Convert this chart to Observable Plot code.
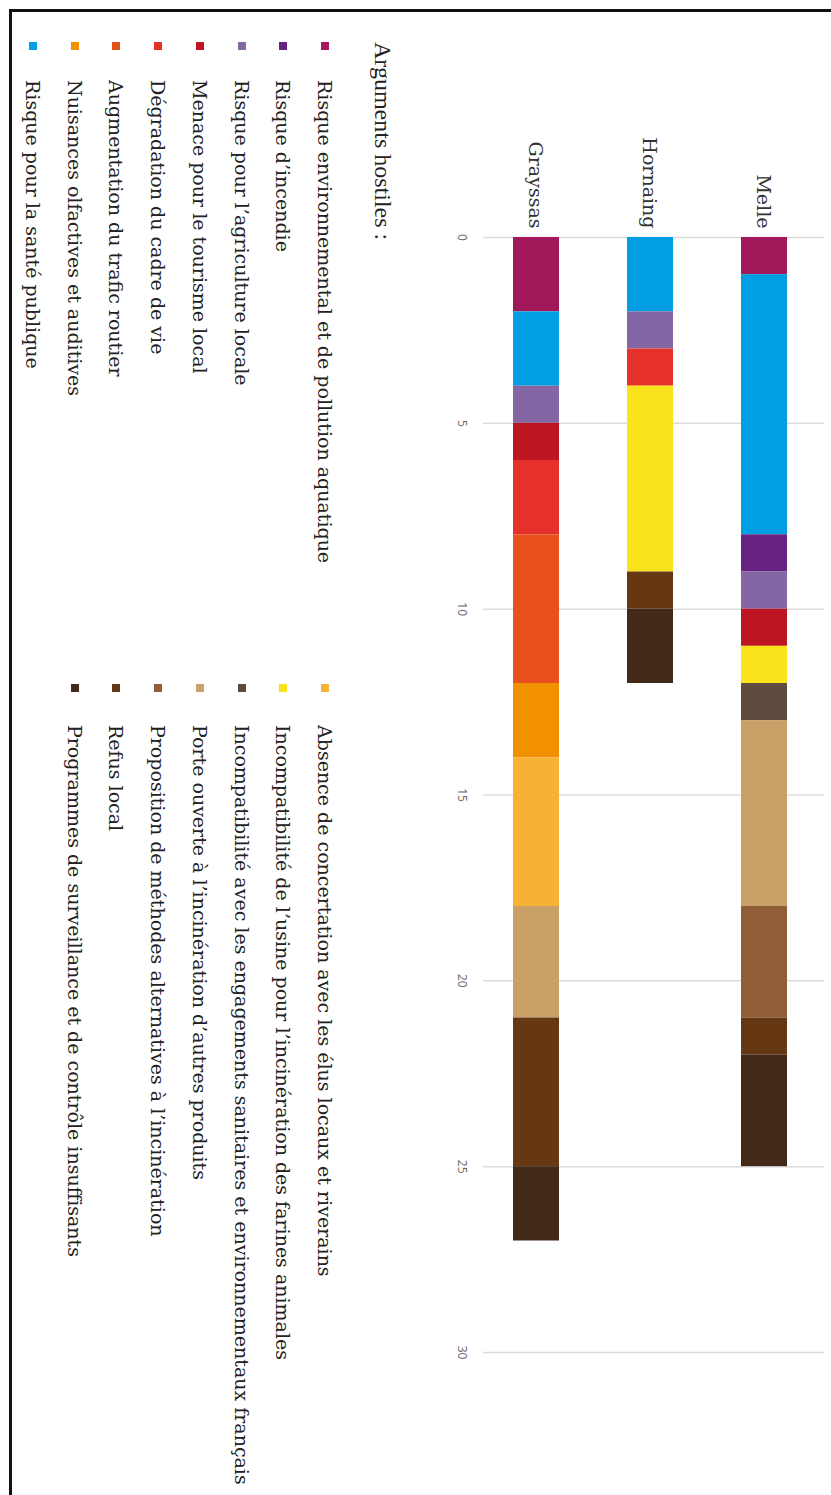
<!DOCTYPE html>
<html><head><meta charset="utf-8">
<script src="https://cdn.jsdelivr.net/npm/d3@7"></script>
<script src="https://cdn.jsdelivr.net/npm/@observablehq/plot@0.6"></script>
<style>
html,body{margin:0;padding:0;background:#fff;}
body{width:831px;height:1495px;overflow:hidden;position:relative;}
#rot{position:absolute;left:0;top:0;width:1495px;height:831px;transform-origin:0 0;transform:translate(831px,0) rotate(90deg);background:#fff;}
#frame{position:absolute;left:9px;top:-10px;width:1500px;height:829px;border-left:3px solid #111;border-bottom:3px solid #111;}
#chart{position:absolute;left:0;top:0;}
.ttl{position:absolute;left:42px;font-family:"Liberation Serif",serif;font-size:24px;color:#222;white-space:nowrap;line-height:28px;}
.row{position:absolute;white-space:nowrap;font-family:"DejaVu Serif",serif;font-size:19px;color:#222;line-height:24px;}
.sw{position:absolute;width:8px;height:8px;}
</style>
</head><body>
<div id="rot"><div id="frame"></div><div id="chart"></div><div id="legend"></div></div>
<script>
const towns = ["Melle", "Hornaing", "Grayssas"];
// arguments in stacking order
const args = [
  "Risque environnemental et de pollution aquatique",
  "Risque pour la santé publique",
  "Risque d’incendie",
  "Risque pour l’agriculture locale",
  "Menace pour le tourisme local",
  "Dégradation du cadre de vie",
  "Augmentation du trafic routier",
  "Nuisances olfactives et auditives",
  "Absence de concertation avec les élus locaux et riverains",
  "Incompatibilité de l’usine pour l’incinération des farines animales",
  "Incompatibilité avec les engagements sanitaires et environnementaux français",
  "Porte ouverte à l’incinération d’autres produits",
  "Proposition de méthodes alternatives à l’incinération",
  "Refus local",
  "Programmes de surveillance et de contrôle insuffisants"
];
const colors = [
  "#a2195b", "#009ee2", "#662382", "#8466a4", "#bd1622", "#e5312a", "#e8511c", "#f29100",
  "#f8b133", "#f9e41b", "#5f4c3e", "#c9a068", "#925e38", "#653813", "#422918"
];
const melle    = [1, 7, 1, 1, 1, 0, 0, 0, 0, 1, 1, 5, 3, 1, 3];
const hornaing = [0, 2, 0, 1, 0, 1, 0, 0, 0, 5, 0, 0, 0, 1, 2];
const grayssas = [2, 2, 0, 1, 1, 2, 4, 2, 4, 0, 0, 3, 0, 4, 2];
const xTicks = [0, 5, 10, 15, 20, 25, 30];
const legendTitle = "Arguments hostiles :";
const legendCol1 = [0, 2, 3, 4, 5, 6, 7, 1];
const legendCol2 = [8, 9, 10, 11, 12, 13, 14];

const series = {Melle: melle, Hornaing: hornaing, Grayssas: grayssas};
const data = [];
for (const t of towns) series[t].forEach((v, j) => { if (v > 0) data.push({town: t, arg: args[j], value: v}); });

const chart = Plot.plot({
  width: 1495, height: 400,
  marginTop: 7, marginBottom: 52, marginLeft: 237, marginRight: 143,
  style: {background: "transparent"},
  x: {domain: [0, 30], label: null},
  y: {domain: towns, range: [21.2, 340.4], paddingInner: 0.6, paddingOuter: 0.2, label: null},
  color: {domain: args, range: colors},
  marks: [
    Plot.gridX(xTicks, {stroke: "#dcdcdc", strokeOpacity: 1, strokeWidth: 1.5}),
    Plot.barX(data, Plot.stackX({y: "town", x: "value", fill: "arg", order: args})),
    Plot.axisX({ticks: xTicks, tickSize: 0, tickPadding: 16, fontSize: 12, fontFamily: "Open Sans, sans-serif", fill: "#666", label: null}),
    Plot.axisY({tickSize: 0, tickPadding: 9, fontSize: 19, fontFamily: "DejaVu Serif, serif", fill: "#333", label: null})
  ]
});
document.getElementById("chart").appendChild(chart);

const color = chart.scale("color");
const leg = document.getElementById("legend");
const t = document.createElement("div");
t.className = "ttl"; t.textContent = legendTitle; t.style.top = (448 - 14) + "px";
leg.appendChild(t);
function addCol(idx, swX, txtX) {
  idx.forEach((j, i) => {
    const cy = 506 + i * 41.7;
    const sw = document.createElement("div");
    sw.className = "sw"; sw.style.left = swX + "px"; sw.style.top = (cy - 4) + "px";
    sw.style.background = color.apply(args[j]);
    leg.appendChild(sw);
    const r = document.createElement("div");
    r.className = "row"; r.style.left = txtX + "px"; r.style.top = (cy - 12) + "px";
    r.textContent = args[j];
    leg.appendChild(r);
  });
}
addCol(legendCol1, 42, 80);
addCol(legendCol2, 684, 725);
</script>
</body></html>
